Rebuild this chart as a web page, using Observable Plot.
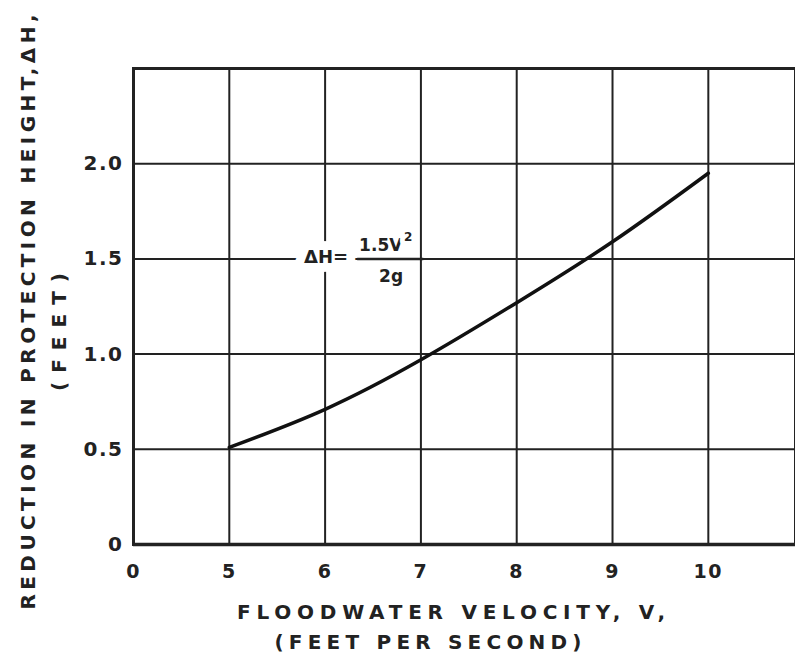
<!DOCTYPE html>
<html><head><meta charset="utf-8">
<script src="https://cdn.jsdelivr.net/npm/d3@7"></script>
<script src="https://cdn.jsdelivr.net/npm/@observablehq/plot@0.6"></script>
<style>
  html,body{margin:0;padding:0;background:#fff}
  #chart svg{display:block}
</style>
</head><body><div id="chart"></div>
<script>
// Data
const velocity  = [5, 6, 7, 8, 9, 10];
const reduction = [0.51, 0.71, 0.97, 1.27, 1.59, 1.95];

// Axis ticks (the "0" sits at the broken-axis origin, one grid step left of 5)
const xTickPositions = [4, 5, 6, 7, 8, 9, 10];
const xTickLabels    = ["0", "5", "6", "7", "8", "9", "10"];
const yTickValues    = [0, 0.5, 1.0, 1.5, 2.0];
const yTickLabels    = ["0", "0.5", "1.0", "1.5", "2.0"];
const yGridValues    = [0, 0.5, 1.0, 1.5, 2.0, 2.5];

// Annotation texts
const formulaLeft = "ΔH=";
const formulaNum  = "1.5V";
const formulaExp  = "2";
const formulaDen  = "2g";
const formulaAnchor = [{v: 6.0, h: 1.5}];

const xTitle1 = "FLOODWATER VELOCITY, V,";
const xTitle2 = "(FEET PER SECOND)";
const yTitle1 = "REDUCTION IN PROTECTION HEIGHT,ΔH,";
const yTitle2 = "(FEET)";

const curveData = velocity.map((v, i) => ({v, h: reduction[i]}));
const ink = "#222";
const font = "DejaVu Sans";

const chart = Plot.plot({
  width: 795,
  height: 653,
  marginLeft: 133,
  marginRight: 0,
  marginTop: 68,
  marginBottom: 109,
  style: {fontFamily: font, fontWeight: "bold", background: "#fff", overflow: "visible"},
  x: {domain: [4, 10.91], axis: null},
  y: {domain: [0, 2.5], axis: null},
  marks: [
    Plot.ruleX(xTickPositions, {x: d => d, stroke: ink, strokeWidth: 2}),
    Plot.ruleY(yGridValues, {y: d => d, stroke: ink, strokeWidth: 2}),
    Plot.frame({stroke: ink, strokeWidth: 3}),
    Plot.ruleY([0], {stroke: ink, strokeWidth: 3.5}),
    Plot.line(curveData, {x: "v", y: "h", curve: "natural", stroke: "#111", strokeWidth: 3.5}),
    // formula annotation with white halos masking the grid
    Plot.text(formulaAnchor, {x: "v", y: "h", text: () => formulaLeft, dx: 1, dy: -2,
      fontSize: 18, fill: ink, stroke: "white", strokeWidth: 18, paintOrder: "stroke", strokeLinejoin: "round"}),
    Plot.text(formulaAnchor, {x: "v", y: "h", text: () => formulaNum, textAnchor: "start", dx: 34, dy: -13,
      fontSize: 17, fill: ink, stroke: "white", strokeWidth: 10, paintOrder: "stroke", strokeLinejoin: "round"}),
    Plot.text(formulaAnchor, {x: "v", y: "h", text: () => formulaExp, textAnchor: "start", dx: 79, dy: -22,
      fontSize: 12, fill: ink, stroke: "white", strokeWidth: 10, paintOrder: "stroke", strokeLinejoin: "round"}),
    Plot.text(formulaAnchor, {x: "v", y: "h", text: () => formulaDen, dx: 66, dy: 18,
      fontSize: 17, fill: ink, stroke: "white", strokeWidth: 16, paintOrder: "stroke", strokeLinejoin: "round"}),
    Plot.ruleY(formulaAnchor, {y: "h", x1: 6.34, x2: 7.03, stroke: ink, strokeWidth: 2.5}),
    // tick labels
    Plot.text(xTickPositions, {x: d => d, y: () => 0, text: (d, i) => xTickLabels[i], dy: 27,
      fontSize: 19, fill: ink, className: "ticklabel"}),
    Plot.text(yTickValues, {x: () => 4, y: d => d, text: (d, i) => yTickLabels[i], textAnchor: "end", dx: -10,
      fontSize: 20, fill: ink, className: "ticklabel"})
  ]
});
document.getElementById("chart").appendChild(chart);

const svg = d3.select(chart);
svg.selectAll(".ticklabel text").attr("letter-spacing", 1.5);

// axis titles
function addTitle(txt, x, y, len, rotate) {
  svg.append("text")
    .attr("transform", `translate(${x},${y})` + (rotate ? " rotate(-90)" : ""))
    .attr("text-anchor", "middle")
    .attr("dominant-baseline", "central")
    .attr("font-family", font)
    .attr("font-weight", "bold")
    .attr("font-size", 20)
    .attr("fill", ink)
    .attr("textLength", len)
    .attr("lengthAdjust", "spacing")
    .text(txt);
}
addTitle(xTitle1, 451, 612, 428, false);
addTitle(xTitle2, 428, 642, 307, false);
addTitle(yTitle1, 28, 312, 595, true);
addTitle(yTitle2, 59, 332, 118, true);
</script>
</body></html>
